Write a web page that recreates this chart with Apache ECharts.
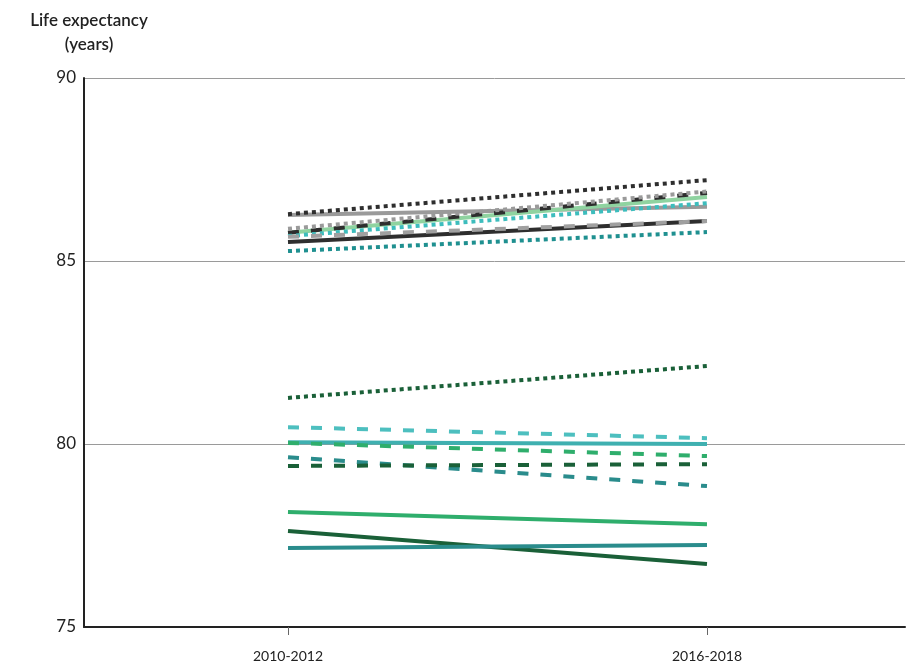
<!DOCTYPE html>
<html>
<head>
<meta charset="utf-8">
<script src="https://cdn.jsdelivr.net/npm/echarts@6/dist/echarts.min.js"></script>
<style>html,body{margin:0;padding:0;background:#fff}#c{width:907px;height:665px}</style>
</head>
<body>
<div id="c"></div>
<script>
var categories = ['2010-2012', '2016-2018'];
var yTicks = [75, 80, 85, 90];

// upper cluster
var blackDotted   = [86.28, 87.21];
var greySolid     = [86.26, 86.48];
var lightGreen    = [85.77, 86.75];
var blackDashed   = [85.77, 86.86];
var greyDotted    = [85.88, 86.90];
var tealDottedUp  = [85.68, 86.58];
var blackSolid    = [85.52, 86.09];
var greyDashed    = [85.66, 86.09];
var tealDottedLow = [85.27, 85.79];

// lower cluster
var dkGreenDotted = [81.26, 82.13];
var ltTealDashed  = [80.46, 80.16];
var ltTealSolid   = [80.05, 80.00];
var greenDashed   = [80.03, 79.67];
var tealDashed    = [79.64, 78.85];
var dkGreenDashed = [79.40, 79.45];
var greenSolid    = [78.14, 77.81];
var dkGreenSolid  = [77.62, 76.72];
var tealSolid     = [77.16, 77.24];

var DOT = [4, 4], DASH = [11, 12];
var defs = [
  ['Grey solid', greySolid, '#9a9a9a', 'solid'],
  ['Light green solid', lightGreen, '#8fd3a0', 'solid'],
  ['Black dashed', blackDashed, '#2e2e2e', DASH],
  ['Grey dotted', greyDotted, '#9a9a9a', DOT],
  ['Teal dotted A', tealDottedUp, '#3dbdbd', DOT],
  ['Black solid', blackSolid, '#2e2e2e', 'solid'],
  ['Grey dashed', greyDashed, '#a0a0a0', DASH],
  ['Teal dotted B', tealDottedLow, '#1f9090', DOT],
  ['Black dotted', blackDotted, '#2e2e2e', DOT],
  ['Dark green dotted', dkGreenDotted, '#1a6038', DOT],
  ['Light teal solid', ltTealSolid, '#3fb0b0', 'solid'],
  ['Light teal dashed', ltTealDashed, '#4dbfbf', DASH],
  ['Green dashed', greenDashed, '#2fae6c', DASH],
  ['Teal dashed', tealDashed, '#2a8c8c', DASH],
  ['Dark green dashed', dkGreenDashed, '#1a6038', DASH],
  ['Green solid', greenSolid, '#2fae6c', 'solid'],
  ['Dark green solid', dkGreenSolid, '#1a6038', 'solid'],
  ['Teal solid', tealSolid, '#2a8c8c', 'solid']
];

var series = defs.map(function (d) {
  return {
    name: d[0],
    type: 'line',
    symbol: 'none',
    silent: true,
    animation: false,
    data: d[1].map(function (v, i) { return [i, v]; }),
    lineStyle: { color: d[2], width: 4, type: d[3], cap: 'butt' }
  };
});

var chart = echarts.init(document.getElementById('c'), null, { renderer: 'canvas' });
chart.setOption({
  backgroundColor: '#fff',
  animation: false,
  title: {
    text: 'Life expectancy\n(years)',
    left: 84, top: 4, textAlign: 'center',
    textStyle: { fontFamily: 'Lato', fontSize: 17, fontWeight: 600, color: '#222', lineHeight: 24 }
  },
  grid: { left: 84, right: 2, top: 78, bottom: 38, containLabel: false },
  xAxis: {
    type: 'value',
    min: -0.4869, max: 1.4726,
    axisLine: { show: true, onZero: false, lineStyle: { color: '#222', width: 2 } },
    axisTick: { show: true, customValues: [0, 1], length: 8, lineStyle: { color: '#666', width: 1 } },
    axisLabel: {
      customValues: [0, 1],
      formatter: function (v) { return categories[Math.round(v)]; },
      fontFamily: 'Lato', fontSize: 14, color: '#222', margin: 22
    },
    splitLine: { show: false }
  },
  yAxis: {
    type: 'value',
    min: yTicks[0], max: yTicks[yTicks.length - 1], interval: 5,
    axisLine: { show: true, onZero: false, lineStyle: { color: '#222', width: 2 } },
    axisTick: { show: false },
    axisLabel: { fontFamily: 'Lato', fontSize: 17, color: '#222', margin: 8 },
    splitLine: { show: true, lineStyle: { color: '#9a9a9a', width: 1 } }
  },
  series: series
});
</script>
</body>
</html>
